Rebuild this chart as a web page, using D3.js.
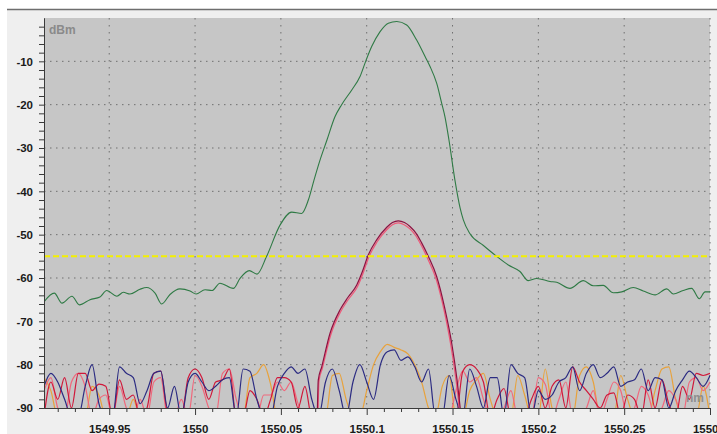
<!DOCTYPE html>
<html>
<head>
<meta charset="utf-8">
<title>OSA spectrum</title>
<script src="https://d3js.org/d3.v7.min.js"></script>
<style>
  body { margin: 0; background: #fff; }
  svg { display: block; }
  .axis text { font-family: "Liberation Sans", Arial, sans-serif; font-weight: bold; font-size: 11.5px; fill: #1a1a1a; }
  .axis line, .axis path { stroke: #3a3a3a; }
</style>
</head>
<body>
<script>
var width = 717, height = 434;

// axis ticks
var xTicks = [1549.95, 1550, 1550.05, 1550.1, 1550.15, 1550.2, 1550.25, 1550.3];
var xTickLabels = ["1549.95", "1550", "1550.05", "1550.1", "1550.15", "1550.2", "1550.25", "1550.3"];
var yTicks = [-10, -20, -30, -40, -50, -60, -70, -80, -90];
var threshold = -55;

// green trace (wavelength nm, dBm)
var greenTrace = [
  [1549.9120, -65.5], [1549.9180, -63.5], [1549.9225, -65.8], [1549.9283, -64.2], [1549.9326, -66.2],
  [1549.9388, -65.0], [1549.9446, -64.4], [1549.9485, -62.9], [1549.9545, -64.2], [1549.9582, -63.3],
  [1549.9621, -63.7], [1549.9679, -62.6], [1549.9718, -62.2], [1549.9767, -63.5], [1549.9806, -66.0],
  [1549.9854, -63.8], [1549.9912, -62.5], [1549.9971, -63.0], [1550.0006, -63.7], [1550.0058, -62.7],
  [1550.0099, -62.9], [1550.0145, -61.2], [1550.0223, -62.4], [1550.0262, -60.1], [1550.0316, -58.3],
  [1550.0361, -59.1], [1550.0417, -55.0], [1550.0495, -47.8], [1550.0563, -44.8], [1550.0621, -45.1],
  [1550.0660, -42.0], [1550.0693, -37.4], [1550.0728, -32.8], [1550.0769, -28.1], [1550.0815, -22.8],
  [1550.0854, -20.0], [1550.0913, -16.6], [1550.0961, -13.5], [1550.0994, -10.0], [1550.1029, -6.6],
  [1550.1077, -3.2], [1550.1126, -1.2], [1550.1175, -0.8], [1550.1233, -1.6], [1550.1291, -5.1],
  [1550.1345, -9.3], [1550.1369, -11.2], [1550.1408, -15.1], [1550.1437, -19.7], [1550.1456, -22.8],
  [1550.1479, -28.1], [1550.1514, -37.4], [1550.1544, -43.8], [1550.1563, -46.6], [1550.1602, -49.8],
  [1550.1680, -52.5], [1550.1757, -55.0], [1550.1825, -57.0], [1550.1893, -58.5], [1550.1941, -60.6],
  [1550.1990, -60.1], [1550.2068, -60.8], [1550.2107, -61.0], [1550.2184, -62.4], [1550.2262, -60.6],
  [1550.2320, -61.8], [1550.2378, -61.7], [1550.2437, -63.4], [1550.2486, -63.2], [1550.2553, -62.2],
  [1550.2611, -63.0], [1550.2680, -63.9], [1550.2748, -62.5], [1550.2786, -63.7], [1550.2844, -62.9],
  [1550.2893, -62.4], [1550.2938, -64.8], [1550.2971, -63.2], [1550.3000, -63.2]
];

// signal traces
var sigA = [
  [1550.0712, -92], [1550.0718, -83.5], [1550.0738, -80.5], [1550.0786, -72.8], [1550.0844, -67.4],
  [1550.0890, -64.5], [1550.0942, -61.6], [1550.0975, -58.5], [1550.1009, -54.7], [1550.1058, -51.2],
  [1550.1117, -48.3], [1550.1150, -47.2], [1550.1184, -46.8], [1550.1220, -47.2], [1550.1252, -48.1],
  [1550.1290, -49.8], [1550.1320, -51.9], [1550.1359, -55.0], [1550.1408, -59.7], [1550.1456, -67.2],
  [1550.1495, -75.0], [1550.1524, -82.8], [1550.1550, -92]
];
var sigB = [
  [1550.0716, -92], [1550.0722, -83.8], [1550.0742, -80.8], [1550.0790, -73.2], [1550.0848, -67.8],
  [1550.0894, -64.9], [1550.0946, -62.0], [1550.0979, -58.9], [1550.1012, -55.2], [1550.1060, -51.7],
  [1550.1118, -48.8], [1550.1150, -47.7], [1550.1184, -47.3], [1550.1218, -47.7], [1550.1250, -48.6],
  [1550.1287, -50.3], [1550.1317, -52.4], [1550.1355, -55.5], [1550.1404, -60.2], [1550.1452, -67.7],
  [1550.1490, -75.5], [1550.1519, -83.2], [1550.1545, -92]
];

// noise traces sampled every 0.004 nm from 1549.912 nm
var noiseStart = 1549.912, noiseStep = 0.004;
var noiseNavy = [
  -85, -82, -84, -88, -92, -92, -85, -80, -89, -92,
  -92, -80.5, -82, -83, -89, -86, -82, -81.5, -90, -85,
  -92, -84, -82, -84, -86, -85, -83.5, -83, -92, -81,
  -81.5, -88, -92, -92, -85, -82, -80.5, -82, -81, -88,
  -92, -84, -81, -86, -92, -84, -80, -84, -88, -80,
  -77, -76.6, -79, -78.2, -80.5, -84, -81, -92, -92, -82.5,
  -88, -92, -81, -85, -90, -83, -83, -92, -80, -82,
  -83, -92, -86, -88, -87, -84, -83, -80.5, -86, -82,
  -80, -83, -82, -80.5, -85, -84, -83.5, -81, -86, -83,
  -83.5, -90, -86, -83.5, -81.5, -83, -85, -82.5
];
var noiseRed = [
  -92, -84, -88, -83, -90, -82, -82, -86, -84.5, -85,
  -92, -83.5, -88, -87, -92, -90, -82, -81.5, -91, -92,
  -92, -83, -81, -83, -88, -84, -83.5, -81, -92, -92,
  -86, -88, -92, -88, -83, -83, -84, -90, -85, -92,
  -92, -92, -92, -92, -92, -92, -92, -92, -92, -92,
  -92, -92, -92, -92, -92, -92, -92, -92, -92, -92,
  -92, -81.5, -80, -81, -84, -92, -88, -85.5, -92, -92,
  -92, -88, -85, -90, -85, -83.5, -90, -80.5, -84, -86,
  -88, -90, -87, -86.5, -92, -87, -88, -92, -83.5, -90,
  -83.5, -89, -92, -85, -88, -82, -82.5, -82
];
var noisePink = [
  -86, -83, -90, -92, -84, -82, -85, -92, -88, -87,
  -92, -85, -90, -92, -88, -92, -84, -83, -92, -92,
  -88, -92, -82.5, -85, -90, -92, -82, -81, -88, -92,
  -92, -92, -87, -87, -84, -86, -84, -89, -92, -92,
  -92, -92, -92, -92, -92, -92, -92, -92, -92, -92,
  -92, -92, -92, -92, -92, -92, -92, -92, -92, -92,
  -86, -81.5, -84, -83, -88, -92, -92, -90, -86, -92,
  -92, -92, -83, -84.5, -92, -88, -84, -92, -92, -90,
  -86, -92, -88, -84, -86, -92, -90, -85, -87, -92,
  -90, -86, -88, -92, -84, -83, -86, -84
];
var noiseOrange = [
  -83, -86, -92, -92, -92, -92, -92, -85, -87, -92,
  -92, -92, -92, -88, -92, -92, -92, -92, -92, -92,
  -92, -92, -92, -92, -92, -92, -92, -92, -92, -92,
  -83, -82, -80, -84.5, -92, -92, -92, -92, -92, -92,
  -92, -92, -82.5, -82, -88, -92, -92, -86, -80, -77,
  -75.3, -76, -76.6, -77.5, -80, -84, -90, -92, -85, -82.5,
  -92, -92, -86, -83.5, -82, -88, -92, -92, -92, -82.5,
  -87, -92, -92, -81, -90, -92, -92, -92, -82.5, -80.5,
  -84, -92, -92, -92, -82.5, -88, -92, -92, -92, -86,
  -81, -80.5, -88, -92, -92, -92, -85, -92
];

var x = d3.scaleLinear().domain([1549.912, 1550.300]).range([44, 710]);
var y = d3.scaleLinear().domain([-90, 0]).range([408, 18]);

var svg = d3.select('body').append('svg')
  .attr('width', width)
  .attr('height', height);

// panel background
svg.append('rect').attr('x', 7).attr('y', 10).attr('width', width - 7).attr('height', height - 10).attr('fill', '#efefef');
svg.append('line').attr('x1', 7).attr('x2', width).attr('y1', 9.5).attr('y2', 9.5)
  .attr('stroke', '#6e6e6e').attr('stroke-width', 1.6);

// plot area
svg.append('rect')
  .attr('x', x.range()[0]).attr('y', y.range()[1])
  .attr('width', x.range()[1] - x.range()[0]).attr('height', y.range()[0] - y.range()[1])
  .attr('fill', '#c6c6c6');

svg.append('clipPath').attr('id', 'plot').append('rect')
  .attr('x', x.range()[0]).attr('y', y.range()[1])
  .attr('width', x.range()[1] - x.range()[0]).attr('height', y.range()[0] - y.range()[1]);

// grid
var grid = svg.append('g');
grid.selectAll('.vg').data(xTicks).enter().append('line')
  .attr('x1', function(d) { return x(d); }).attr('x2', function(d) { return x(d); })
  .attr('y1', y.range()[1]).attr('y2', y.range()[0])
  .attr('stroke', '#6f6f6f').attr('stroke-dasharray', '1.5,5.5');
grid.selectAll('.hg').data(yTicks.slice(0, -1)).enter().append('line')
  .attr('x1', x.range()[0]).attr('x2', x.range()[1])
  .attr('y1', function(d) { return y(d); }).attr('y2', function(d) { return y(d); })
  .attr('stroke', '#6f6f6f').attr('stroke-dasharray', '1.5,4.5');

var plot = svg.append('g').attr('clip-path', 'url(#plot)');

var noiseLine = d3.line().curve(d3.curveMonotoneX)
  .x(function(d, i) { return x(noiseStart + i * noiseStep); })
  .y(function(d) { return y(d); });

var noise = [
  {values: noiseOrange, color: '#e8a23c'},
  {values: noisePink, color: '#f0687c'},
  {values: noiseRed, color: '#d0183a'},
  {values: noiseNavy, color: '#2b2b82'}
];
plot.selectAll('.noise').data(noise).enter().append('path')
  .attr('d', function(d) { return noiseLine(d.values); })
  .attr('fill', 'none')
  .attr('stroke', function(d) { return d.color; })
  .attr('stroke-width', 1.2);

var curved = d3.line().curve(d3.curveMonotoneX)
  .x(function(d) { return x(d[0]); })
  .y(function(d) { return y(d[1]); });

plot.append('path').attr('d', curved(sigB)).attr('fill', 'none').attr('stroke', '#f05878').attr('stroke-width', 1.2);
plot.append('path').attr('d', curved(sigA)).attr('fill', 'none').attr('stroke', '#8e1040').attr('stroke-width', 1.2);

plot.append('path').attr('d', curved(greenTrace)).attr('fill', 'none').attr('stroke', '#2f7a45').attr('stroke-width', 1.1);

// threshold line
svg.append('line')
  .attr('x1', x.range()[0]).attr('x2', x.range()[1])
  .attr('y1', y(threshold)).attr('y2', y(threshold))
  .attr('stroke', '#f4f000').attr('stroke-width', 2).attr('stroke-dasharray', '6,3');

// axes
var xMinor = d3.range(1549.92, 1550.295, 0.01).filter(function(v) {
  return !xTicks.some(function(t) { return Math.abs(t - v) < 1e-6; });
});
svg.append('g').attr('class', 'axis')
  .attr('transform', 'translate(0,' + y.range()[0] + ')')
  .call(d3.axisBottom(x).tickValues(xMinor).tickSize(4).tickSizeOuter(0).tickFormat(''));
svg.append('g').attr('class', 'axis')
  .attr('transform', 'translate(0,' + y.range()[0] + ')')
  .call(d3.axisBottom(x).tickValues(xTicks).tickSize(7).tickSizeOuter(0).tickPadding(10)
    .tickFormat(function(d, i) { return xTickLabels[i]; }));

var yMinor = d3.range(-88, 0, 2).filter(function(v) { return v % 10 !== 0; });
svg.append('g').attr('class', 'axis')
  .attr('transform', 'translate(' + x.range()[0] + ',0)')
  .call(d3.axisLeft(y).tickValues(yMinor).tickSize(5).tickSizeOuter(0).tickFormat(''));
svg.append('g').attr('class', 'axis')
  .attr('transform', 'translate(' + x.range()[0] + ',0)')
  .call(d3.axisLeft(y).tickValues(yTicks).tickSize(5).tickSizeOuter(0).tickPadding(6)
    .tickFormat(function(d) { return d; }));

// unit labels
svg.append('text').attr('x', 49).attr('y', 34).text('dBm')
  .attr('font-family', '"Liberation Sans", Arial, sans-serif').attr('font-weight', 'bold')
  .attr('font-size', '12px').attr('fill', '#8a8a8a');
svg.append('text').attr('x', 686).attr('y', 402).text('nm')
  .attr('font-family', '"Liberation Sans", Arial, sans-serif').attr('font-weight', 'bold')
  .attr('font-size', '12px').attr('fill', '#8e8e8e');
</script>
</body>
</html>
